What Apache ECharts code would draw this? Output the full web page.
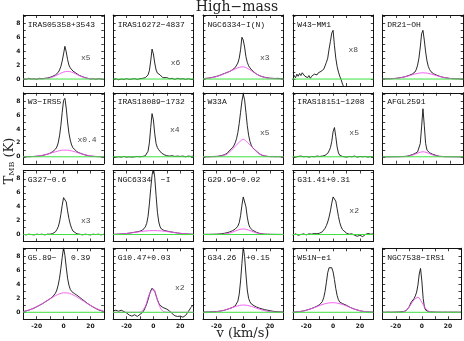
<!DOCTYPE html>
<html>
<head>
<meta charset="utf-8">
<script src="https://cdn.jsdelivr.net/npm/echarts@6/dist/echarts.min.js"></script>
<style>
  html, body { margin: 0; padding: 0; background: #fff; }
  #chart { width: 464px; height: 341px; }
</style>
</head>
<body>
<div id="chart"></div>
<script>
// velocity grids (km/s)
const VEL = [-30,-28,-26,-24,-22,-20,-18,-16,-14,-12,-10,
  -8,-7,-6,-5,-4,-3,-2,-1,0,1,2,3,4,5,6,7,8,
  10,12,14,16,18,20,22,24,26,28,30];
const FIT_VEL = [-30,-27,-24,-21,-18,-15,-12,-9,-6,-3,0,3,6,9,12,15,18,21,24,27,30];
const W43_VEL = [-30,-29,-28,-27,-26,-25,-24,-23,-22,-21,-20,-19,-18,-17,-16,-15,-14,-13,-12,-11,
  -10,-9,-8,-7,-6,-5,-4,-3,-2,-1,0,1,2,3,4,5,6,7,8];
// zero baseline ends
const BASE_VEL = [-30, 30];
const BASE_T = [0, 0];

// observed spectra, T_MB (K) on VEL
const obsIRAS05358 = [0.05,-0.05,0.1,0.0,0.05,-0.05,0.1,0.05,0.1,0.15,0.25,
  0.4,0.5,0.6,0.75,0.95,1.3,1.8,2.6,3.6,4.7,3.9,2.8,2.0,1.6,1.35,1.15,1.0,
  0.75,0.5,0.35,0.2,0.1,0.0,0.05,-0.05,0.05,0.0,-0.05];
const obsIRAS16272 = [-0.05,0.05,-0.1,0.0,-0.05,0.05,-0.05,0.0,0.05,-0.05,0.05,
  0.1,0.15,0.2,0.35,0.6,1.2,2.6,4.3,3.6,2.3,1.3,0.85,0.9,0.6,0.35,0.2,0.1,
  0.2,0.05,0.1,-0.05,0.1,0.0,0.05,-0.05,0.05,-0.05,0.0];
const obsNGC6334IN = [0.05,0.1,0.12,0.2,0.28,0.38,0.5,0.65,0.8,0.95,1.1,
  1.35,1.5,1.65,1.9,2.3,3.0,4.2,6.0,5.6,4.6,3.2,2.4,1.9,1.6,1.35,1.15,0.95,
  0.7,0.5,0.35,0.25,0.18,0.12,0.1,0.08,0.1,0.05,0.08];
const obsW43 = [-0.1,0.5,0.2,0.7,0.4,0.8,0.5,0.9,0.7,0.4,0.6,0.2,0.5,0.1,0.4,0.3,0.7,0.5,0.6,0.9,
  0.7,1.1,0.9,1.4,1.6,2.4,3.0,4.3,5.4,6.6,7.0,4.8,3.0,1.8,1.0,0.4,-0.1,-0.7,-1.2];
const obsDR21OH = [0.03,0.05,0.03,0.05,0.08,0.1,0.16,0.22,0.3,0.42,0.55,
  0.72,0.85,1.0,1.35,2.0,3.0,4.6,6.5,7.0,5.6,3.9,2.6,1.8,1.35,1.05,0.85,0.75,
  0.58,0.42,0.3,0.2,0.15,0.08,0.05,0.04,0.03,0.02,0.02];
const obsW3IRS5 = [0,0.01,0.02,0.03,0.05,0.08,0.12,0.18,0.27,0.38,0.52,
  0.75,0.9,1.1,1.4,2.0,3.0,4.5,6.4,8.1,8.4,7.0,5.0,3.4,2.4,1.7,1.3,1.05,
  0.72,0.55,0.4,0.27,0.18,0.1,0.06,0.03,0.02,0.01,0];
const obsIRAS18089 = [0.0,-0.05,0.0,-0.05,0.05,-0.05,0.0,-0.05,0.0,0.05,0.0,
  0.05,0.1,0.15,0.3,0.8,2.0,4.2,6.2,5.3,3.3,1.9,1.3,1.0,0.8,0.55,0.4,0.3,
  0.15,0.1,0.15,0.05,0.1,0.05,0.1,0.0,0.1,0.05,0.1];
const obsW33A = [0,0.02,0.0,0.03,0.05,0.06,0.1,0.18,0.3,0.5,0.95,
  1.3,1.6,2.0,2.6,3.5,4.8,6.4,8.0,9.0,8.2,6.4,4.5,3.1,2.2,1.65,1.3,1.15,
  0.78,0.45,0.22,0.12,0.06,0.03,0.05,0.02,0.04,0.0,0.02];
const obsIRAS18151 = [0.05,-0.05,0.05,0.1,0.0,0.05,-0.05,0.05,0.0,0.1,0.05,
  0.1,0.15,0.2,0.3,0.5,0.85,1.3,2.2,3.6,4.2,2.9,1.4,0.55,0.2,0.1,0.05,0.1,
  -0.05,0.05,0.0,0.1,-0.05,0.05,0.0,0.05,-0.05,0.05,0.0];
const obsAFGL2591 = [0,0,0.01,0.01,0.02,0.02,0.03,0.04,0.05,0.08,0.18,
  0.3,0.38,0.47,0.58,0.7,0.95,1.9,4.3,6.9,4.5,1.9,0.95,0.7,0.58,0.47,0.38,0.3,
  0.18,0.08,0.05,0.03,0.02,0.02,0.01,0.01,0,0,0];
const obsG327 = [0.05,-0.05,0.05,0.0,-0.05,0.05,0.0,0.05,-0.05,0.05,0.05,
  0.15,0.25,0.4,0.7,1.1,1.8,2.9,4.2,5.3,5.5,4.7,3.4,2.3,1.5,0.9,0.5,0.3,
  0.1,0.05,-0.05,0.05,0.0,-0.05,0.05,0.0,0.05,-0.05,0.05];
const obsNGC6334I = [0.03,0.04,0.06,0.08,0.11,0.15,0.2,0.27,0.33,0.4,0.48,
  0.65,0.8,1.1,1.6,2.6,4.4,6.6,8.5,9.6,8.2,5.6,3.2,1.8,1.1,0.8,0.65,0.58,
  0.5,0.42,0.35,0.28,0.22,0.17,0.13,0.1,0.08,0.05,0.04];
const obsG2996 = [0.02,0.03,0.03,0.04,0.05,0.06,0.08,0.12,0.18,0.27,0.38,
  0.55,0.65,0.78,0.95,1.2,1.7,2.7,4.2,5.4,5.5,4.0,2.5,1.5,1.0,0.78,0.62,0.5,
  0.3,0.18,0.1,0.06,0.05,0.04,0.03,0.03,0.02,0.02,0.02];
const obsG3141 = [-0.1,0.1,-0.1,0.0,0.1,-0.05,0.1,0.05,0.15,0.1,0.2,
  0.4,0.6,0.9,1.3,1.8,2.5,3.4,4.5,5.4,5.5,4.8,3.7,2.6,1.7,1.1,0.7,0.45,
  0.2,0.05,0.1,-0.1,-0.25,-0.1,-0.3,0.0,0.15,0.05,0.1];
const obsG589 = [0.1,0.2,0.3,0.45,0.6,0.8,1.0,1.2,1.45,1.7,1.95,
  2.25,2.45,2.75,3.2,3.9,4.9,6.3,7.9,9.3,8.2,6.5,4.9,3.9,3.3,3.0,2.85,2.7,
  2.45,2.15,1.85,1.55,1.25,1.0,0.75,0.55,0.35,0.22,0.12];
const obsG1047 = [0.2,0.3,0.15,0.3,0.1,-0.1,-0.4,-0.55,-0.35,-0.6,-0.3,
  0.0,0.3,0.7,1.2,1.8,2.5,3.1,3.45,3.4,3.0,2.4,1.8,1.3,1.0,0.8,0.7,0.6,
  0.45,0.2,-0.2,-0.5,-0.6,-0.55,-0.7,-0.45,0.1,0.7,1.1];
const obsG3426 = [0.05,0.04,0.05,0.06,0.08,0.1,0.15,0.22,0.3,0.42,0.55,
  0.7,0.8,0.92,1.15,1.6,2.6,4.5,7.0,9.4,8.0,5.5,3.2,2.0,1.5,1.2,1.05,0.95,
  0.75,0.6,0.48,0.38,0.3,0.22,0.15,0.1,0.07,0.05,0.04];
const obsW51N = [0.02,0.04,0.06,0.13,0.2,0.3,0.42,0.55,0.7,0.88,1.1,
  1.55,2.1,3.0,4.3,5.7,6.4,6.5,6.4,5.8,4.7,3.4,2.4,1.8,1.45,1.3,1.25,1.2,
  1.0,0.78,0.6,0.45,0.33,0.22,0.14,0.09,0.05,0.03,0.02];
const obsNGC7538 = [0.02,0.0,0.03,0.01,0.02,0.03,0.04,0.06,0.1,0.25,0.7,
  1.5,1.7,1.95,2.35,2.9,3.9,5.5,6.3,4.5,2.0,0.7,0.3,0.15,0.1,0.06,0.05,0.04,
  0.03,0.02,0.02,0.01,0.02,0.01,0.02,0.01,0.02,0.01,0.02];

// broad fitted components on FIT_VEL
const fitIRAS05358 = [0,0,0,0,0.01,0.03,0.1,0.23,0.46,0.75,1.0,1.1,1.0,0.75,0.46,0.23,0.1,0.03,0.01,0,0];
const fitNGC6334IN = [0.05,0.1,0.17,0.3,0.48,0.7,0.95,1.2,1.45,1.68,1.75,1.55,1.2,0.82,0.5,0.28,0.14,0.06,0.03,0.01,0];
const fitDR21OH = [0.005,0.01,0.03,0.07,0.14,0.25,0.39,0.56,0.73,0.85,0.9,0.85,0.73,0.56,0.39,0.25,0.14,0.07,0.03,0.01,0.005];
const fitW3IRS5 = [0.004,0.01,0.03,0.06,0.13,0.24,0.38,0.55,0.73,0.88,0.96,0.95,0.85,0.69,0.5,0.33,0.2,0.11,0.05,0.02,0.01];
const fitW33A = [0,0,0,0.005,0.05,0.16,0.4,0.9,1.5,2.1,2.5,2.1,1.5,0.9,0.4,0.16,0.05,0.005,0,0,0];
const fitAFGL2591 = [0,0,0,0,0,0.01,0.045,0.15,0.36,0.6,0.72,0.6,0.36,0.15,0.045,0.01,0,0,0,0,0];
const fitNGC6334I = [0.03,0.05,0.08,0.13,0.2,0.28,0.36,0.44,0.51,0.55,0.57,0.56,0.52,0.46,0.38,0.3,0.22,0.15,0.1,0.06,0.03];
const fitG2996 = [0,0,0,0,0.01,0.04,0.12,0.28,0.5,0.71,0.8,0.71,0.5,0.28,0.12,0.04,0.01,0,0,0,0];
const fitG589 = [0.1,0.25,0.45,0.7,1.0,1.35,1.7,2.05,2.4,2.65,2.8,2.78,2.6,2.3,1.95,1.6,1.22,0.88,0.58,0.33,0.15];
const fitG1047 = [0,0,0,0,0,0,0,0.12,0.86,2.62,3.32,1.74,0.38,0.03,0,0,0,0,0,0,0];
const fitG3426 = [0,0,0.02,0.06,0.13,0.25,0.42,0.62,0.82,0.97,1.05,1.0,0.85,0.65,0.45,0.27,0.14,0.06,0.02,0,0];
const fitW51N = [0.02,0.05,0.12,0.24,0.4,0.6,0.82,1.05,1.24,1.35,1.38,1.32,1.18,0.98,0.75,0.52,0.32,0.18,0.09,0.04,0.02];
const fitNGC7538 = [0,0,0,0,0,0.03,0.25,0.95,1.8,2.15,1.45,0.5,0.1,0.01,0,0,0,0,0,0,0];

// axis ticks
const X_LABELS = [-20, 0, 20];
const Y_LABELS = [0, 2, 4, 6, 8];

// panels, row by row (null = empty slot)
const panels = [
  { name: 'IRAS05358+3543', obs: obsIRAS05358, fit: fitIRAS05358, scale: 'x5', at: [16.5, 3.0] },
  { name: 'IRAS16272\u22124837', obs: obsIRAS16272, scale: 'x6', at: [16.5, 2.3] },
  { name: 'NGC6334\u2212I(N)', obs: obsNGC6334IN, fit: fitNGC6334IN, scale: 'x3', at: [16, 3.0] },
  { name: 'W43\u2212MM1', obs: obsW43, vel: W43_VEL, scale: 'x8', at: [15, 4.2] },
  { name: 'DR21\u2212OH', obs: obsDR21OH, fit: fitDR21OH },
  { name: 'W3\u2212IRS5', obs: obsW3IRS5, fit: fitW3IRS5, scale: 'x0.4', at: [17.5, 2.4] },
  { name: 'IRAS18089\u22121732', obs: obsIRAS18089, scale: 'x4', at: [16, 3.8] },
  { name: 'W33A', obs: obsW33A, fit: fitW33A, scale: 'x5', at: [16, 3.4] },
  { name: 'IRAS18151\u22121208', obs: obsIRAS18151, scale: 'x5', at: [15.7, 3.4] },
  { name: 'AFGL2591', obs: obsAFGL2591, fit: fitAFGL2591 },
  { name: 'G327\u22120.6', obs: obsG327, scale: 'x3', at: [16.5, 1.9] },
  { name: 'NGC6334  \u2212I', obs: obsNGC6334I, fit: fitNGC6334I },
  { name: 'G29.96\u22120.02', obs: obsG2996, fit: fitG2996 },
  { name: 'G31.41+0.31', obs: obsG3141, scale: 'x2', at: [15.7, 3.35] },
  null,
  { name: 'G5.89\u2212   0.39', obs: obsG589, fit: fitG589 },
  { name: 'G10.47+0.03', obs: obsG1047, fit: fitG1047, scale: 'x2', at: [19.7, 3.45] },
  { name: 'G34.26  +0.15', obs: obsG3426, fit: fitG3426 },
  { name: 'W51N\u2212e1', obs: obsW51N, fit: fitW51N },
  { name: 'NGC7538\u2212IRS1', obs: obsNGC7538, fit: fitNGC7538 }
];

const GRID_LEFT = 23.3, COL_STEP = 89.85, PANEL_W = 80.5;
const GRID_TOP = 15, ROW_STEP = 77.75, PANEL_H = 71;
const MONO = 'Liberation Mono';
const SERIF = 'DejaVu Serif';

const grids = [], xAxes = [], yAxes = [], series = [], graphics = [];

const lineStyle = { color: '#111', width: 1 };
const tickStyle = { color: '#111', width: 0.8 };

panels.forEach((p, i) => {
  if (!p) return;
  const r = Math.floor(i / 5), c = i % 5;
  const gi = grids.length;
  const left = GRID_LEFT + c * COL_STEP;
  const top = GRID_TOP + r * ROW_STEP;
  grids.push({ left: left, top: top, width: PANEL_W, height: PANEL_H });

  const xBase = {
    gridIndex: gi, type: 'value', min: -30, max: 30, interval: 10,
    axisLine: { show: true, onZero: false, lineStyle: lineStyle },
    axisTick: { show: true, inside: true, length: 3, lineStyle: tickStyle },
    splitLine: { show: false }
  };
  xAxes.push(Object.assign({}, xBase, {
    position: 'bottom',
    axisLabel: {
      show: r === 3, margin: 4, fontSize: 6, fontWeight: 'bold', color: '#111',
      fontFamily: 'DejaVu Sans',
      formatter: v => X_LABELS.indexOf(v) >= 0 ? String(v) : ''
    }
  }));
  xAxes.push(Object.assign({}, xBase, { position: 'top', axisLabel: { show: false } }));

  const yBase = {
    gridIndex: gi, type: 'value', min: -1, max: 9.2, interval: 1,
    axisLine: { show: true, onZero: false, lineStyle: lineStyle },
    axisTick: { show: true, inside: true, length: 2.5, lineStyle: tickStyle },
    splitLine: { show: false }
  };
  yAxes.push(Object.assign({}, yBase, {
    position: 'left',
    axisLabel: {
      show: c === 0, margin: 3, fontSize: 6, fontWeight: 'bold', color: '#111',
      fontFamily: 'DejaVu Sans',
      formatter: v => Y_LABELS.indexOf(v) >= 0 ? String(v) : ''
    }
  }));
  yAxes.push(Object.assign({}, yBase, { position: 'right', axisLabel: { show: false } }));

  const xi = xAxes.length - 2, yi = yAxes.length - 2;
  const vel = p.vel || VEL;

  // spectrum
  series.push({
    type: 'line', xAxisIndex: xi, yAxisIndex: yi,
    data: p.obs.map((t, k) => [vel[k], t]),
    showSymbol: false, clip: true, z: 2,
    lineStyle: { color: '#111', width: 0.9 }
  });
  // zero baseline
  series.push({
    type: 'line', xAxisIndex: xi, yAxisIndex: yi,
    data: BASE_T.map((t, k) => [BASE_VEL[k], t]),
    showSymbol: false, clip: true, z: 4, silent: true,
    lineStyle: { color: '#3ee03e', width: 1 }
  });
  if (p.fit) {
    series.push({
      type: 'line', xAxisIndex: xi, yAxisIndex: yi,
      data: p.fit.map((t, k) => [FIT_VEL[k], t]),
      showSymbol: false, clip: true, smooth: 0.35, z: 3,
      lineStyle: { color: '#f055f0', width: 0.9 }
    });
  }
  if (p.scale) {
    series.push({
      type: 'scatter', xAxisIndex: xi, yAxisIndex: yi,
      data: [p.at], symbolSize: 0, z: 5,
      label: {
        show: true, position: 'inside', formatter: p.scale,
        fontFamily: MONO, fontSize: 8, color: '#111'
      }
    });
  }

  graphics.push({
    type: 'text', left: left + 4.5, top: top + 5.5,
    style: { text: p.name, font: '8px "' + MONO + '"', fill: '#111' },
    z: 10
  });
});

graphics.push({
  type: 'text', x: 237, y: 7,
  style: {
    text: 'High\u2212mass', font: '14px "' + SERIF + '"', fill: '#222',
    textAlign: 'center', textVerticalAlign: 'middle'
  }
});
graphics.push({
  type: 'text', x: 243, y: 334,
  style: {
    text: 'v (km/s)', font: '13px "' + SERIF + '"', fill: '#222',
    textAlign: 'center', textVerticalAlign: 'middle'
  }
});
graphics.push({
  type: 'text', x: 8, y: 161, rotation: Math.PI / 2,
  style: {
    text: '{t|T}{s|MB}{t| (K)}',
    textAlign: 'center', textVerticalAlign: 'middle', fill: '#222',
    rich: {
      t: { fontFamily: SERIF, fontSize: 13, lineHeight: 16, verticalAlign: 'bottom', fill: '#222' },
      s: { fontFamily: SERIF, fontSize: 8, lineHeight: 10, verticalAlign: 'bottom', fill: '#222' }
    }
  }
});

const chart = echarts.init(document.getElementById('chart'), null, { renderer: 'canvas' });
chart.setOption({
  animation: false,
  backgroundColor: '#fff',
  grid: grids,
  xAxis: xAxes,
  yAxis: yAxes,
  series: series,
  graphic: graphics
});
</script>
</body>
</html>
